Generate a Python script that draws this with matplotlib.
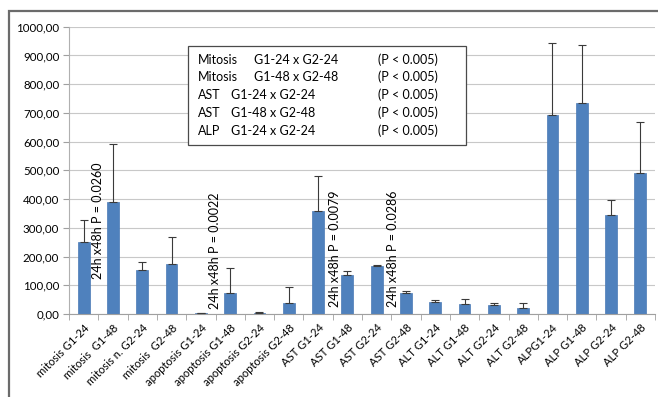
import matplotlib
matplotlib.use("Agg")
import matplotlib.pyplot as plt
from matplotlib.patches import Rectangle
import numpy as np

categories = ["mitosis G1-24", "mitosis  G1-48", "mitosis n. G2-24", "mitosis  G2-48",
              "apoptosis G1-24", "apoptosis G1-48", "apoptosis G2-24", "apoptosis G2-48",
              "AST G1-24", "AST G1-48", "AST G2-24", "AST G2-48",
              "ALT G1-24", "ALT G1-48", "ALT G2-24", "ALT G2-48",
              "ALPG1-24", "ALP G1-48", "ALP G2-24", "ALP G2-48"]
means = [252, 389, 153, 174, 2, 74, 4, 37, 358, 136, 168, 72,
         41, 36, 31, 21, 693, 734, 346, 490]
upper = [327, 590, 182, 269, 3, 159, 6, 93, 480, 151, 170, 80,
         50, 52, 37, 37, 944, 935, 397, 667]

# rotated p-value notes: (x position, baseline value, text)
notes_x = [0.49, 4.48, 8.58, 10.56]
notes_y = [122, 17, 25, 25]
notes_txt = ["24h x48h P = 0.0260", "24h x48h P = 0.0022",
             "24h x48h P = 0.0079", "24h x48h P = 0.0286"]

legend_groups = ["Mitosis", "Mitosis", "AST", "AST", "ALP"]
legend_comp = ["G1-24 x G2-24", "G1-48 x G2-48", "G1-24 x G2-24",
               "G1-48 x G2-48", "G1-24 x G2-24"]
legend_p = ["(P < 0.005)"] * 5

plt.rcParams['font.family'] = ['Lato', 'DejaVu Sans']

W, H = 658, 397
fig = plt.figure(figsize=(W / 100, H / 100), dpi=100)
fig.patch.set_facecolor('white')

# outer chart frame (cut off at right and bottom)
fig.patches.append(Rectangle((9 / W, -0.05), 1.1, 1 - 11 / H + 0.05,
                             transform=fig.transFigure, fill=False,
                             edgecolor='#6b6b6b', linewidth=1.6))

ax = fig.add_axes([69 / W, 1 - 314 / H, 586 / W, 287.3 / H])
x = np.arange(len(categories))
ax.bar(x, means, width=0.4, color='#4f81bd', edgecolor='#4a7ab5',
       linewidth=0.5, zorder=2)
err = np.array(upper) - np.array(means)
ax.errorbar(x, means, yerr=[np.zeros(len(x)), err], fmt='none',
            ecolor='#3a3a3a', elinewidth=0.8, capsize=3, capthick=0.8, zorder=3)

ax.set_xlim(-0.5, len(x) - 0.5)
ax.set_ylim(0, 1000)
ax.set_yticks(np.arange(0, 1001, 100))
ax.set_yticklabels([f"{v:.2f}".replace('.', ',') for v in range(0, 1001, 100)],
                   fontsize=8.3)
ax.yaxis.grid(True, color='#c8c8c8', linewidth=0.8, zorder=0)
ax.set_axisbelow(True)

ax.set_xticks(x)
ax.set_xticklabels(categories, rotation=45, ha='right', rotation_mode='anchor',
                   fontsize=8.1)
ax.set_xticks(np.arange(-0.5, len(x), 1), minor=True)
ax.tick_params(axis='x', which='major', length=0, pad=6)
ax.tick_params(axis='x', which='minor', length=4, color='#a0a0a0')
ax.tick_params(axis='y', length=4, color='#a0a0a0', pad=3)

for s in ['top', 'right']:
    ax.spines[s].set_visible(False)
ax.spines['left'].set_color('#b0b0b0')
ax.spines['bottom'].set_color('#a0a0a0')

for nx, ny, t in zip(notes_x, notes_y, notes_txt):
    ax.text(nx, ny, t, rotation=90, ha='center', va='bottom', fontsize=9)

# legend-like box
fig.patches.append(Rectangle((188 / W, 1 - 145 / H), 278 / W, 99 / H,
                             transform=fig.transFigure, fill=True,
                             facecolor='white', edgecolor='#4a4a4a',
                             linewidth=0.9, zorder=5))
rows_y = [60, 77, 95, 113, 131]
for g, c, p, yy in zip(legend_groups, legend_comp, legend_p, rows_y):
    cx = 254 if g == "Mitosis" else 231
    fig.text(198 / W, 1 - yy / H, g, fontsize=9, va='center', zorder=6)
    fig.text(cx / W, 1 - yy / H, c, fontsize=9, va='center', zorder=6)
    fig.text(378 / W, 1 - yy / H, p, fontsize=9, va='center', zorder=6)

fig.savefig("out.png", dpi=100)
